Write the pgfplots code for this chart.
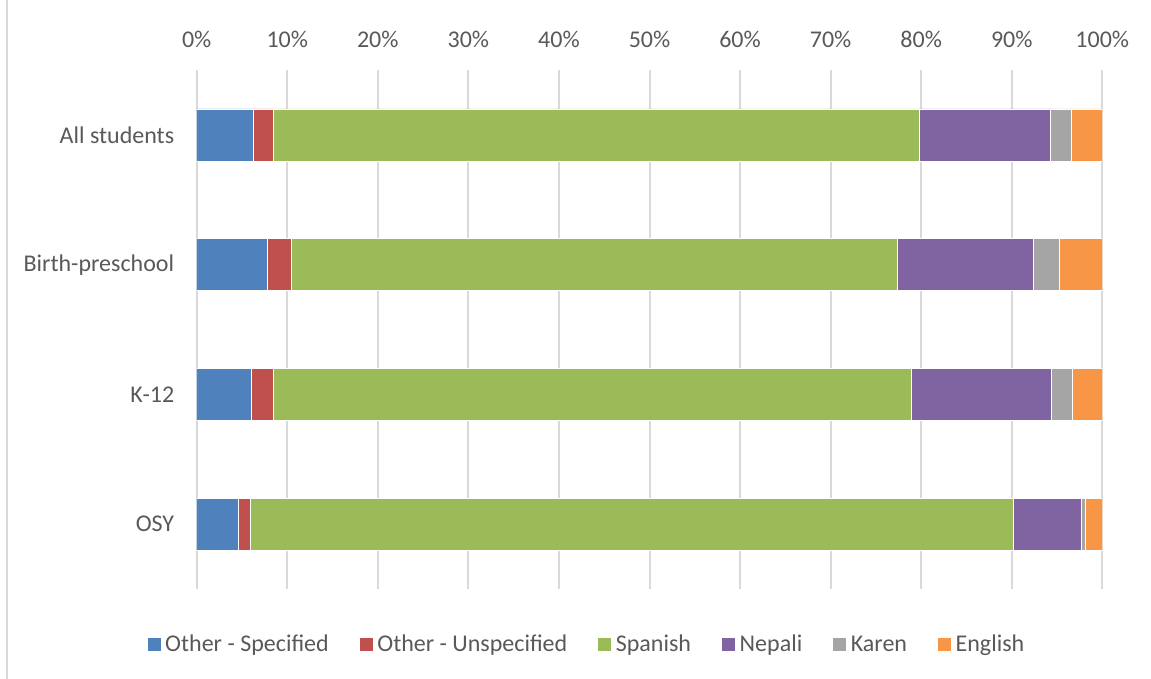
\documentclass[border=0pt]{standalone}
\usepackage{pgfplots}
\pgfplotsset{compat=1.18}
\usepackage{fontspec}
\setmainfont{Carlito}
\definecolor{cblue}{HTML}{4F81BD}
\definecolor{cred}{HTML}{C0504D}
\definecolor{cgreen}{HTML}{9BBB59}
\definecolor{cpurple}{HTML}{8064A2}
\definecolor{cgray}{HTML}{A5A5A5}
\definecolor{corange}{HTML}{F79646}
\definecolor{txt}{HTML}{595959}
\definecolor{gridc}{HTML}{D9D9D9}
\begin{document}
\begin{tikzpicture}[font=\fontsize{24}{29}\selectfont]
\useasboundingbox (-196.7pt,-90pt) rectangle (954.3pt,589pt);
\draw[gridc, line width=1.5pt] (-189.7pt,-90pt) -- (-189.7pt,589pt);
\begin{axis}[
  at={(0,0)}, anchor=south west,
  scale only axis, width=905.6pt, height=519pt,
  xbar stacked, bar width=52pt,
  xmin=0, xmax=100, ymin=-0.5, ymax=3.5, y dir=reverse,
  ytick={0,1,2,3}, yticklabels={All students,Birth-preschool,K-12,OSY},
  xtick={0,10,...,100}, xticklabel pos=upper,
  xticklabel={\pgfmathprintnumber{\tick}\%},
  xmajorgrids, ymajorgrids=false, major grid style={gridc, line width=2pt},
  axis line style={draw=none}, major tick length=0pt,
  tick label style={text=txt},
  yticklabel style={xshift=-19pt},
  xticklabel style={yshift=19pt},
  /pgf/number format/assume math mode=true,
  legend columns=6,
  legend style={draw=none, fill=none, at={(0.4315,-0.1098)}, anchor=center,
    text=txt, /tikz/every even column/.append style={column sep=26pt},
    nodes={inner xsep=4pt, inner ysep=2pt, text height=0.7em, text depth=0.22em}},
  legend image code/.code={\fill[#1] (0pt,-2pt) rectangle (14pt,12pt);},
  every axis plot/.append style={draw=white, line width=0.6pt},
]
\addplot[fill=cblue] coordinates {(6.2,0) (7.8,1) (6.03,2) (4.56,3)};
\addplot[fill=cred] coordinates {(2.3,0) (2.65,1) (2.43,2) (1.33,3)};
\addplot[fill=cgreen] coordinates {(71.3,0) (66.95,1) (70.49,2) (84.29,3)};
\addplot[fill=cpurple] coordinates {(14.5,0) (14.95,1) (15.38,2) (7.54,3)};
\addplot[fill=cgray] coordinates {(2.3,0) (2.9,1) (2.36,2) (0.44,3)};
\addplot[fill=corange] coordinates {(3.4,0) (4.75,1) (3.31,2) (1.84,3)};
\legend{Other - Specified, Other - Unspecified, Spanish, Nepali, Karen, English}
\end{axis}
\end{tikzpicture}
\end{document}
